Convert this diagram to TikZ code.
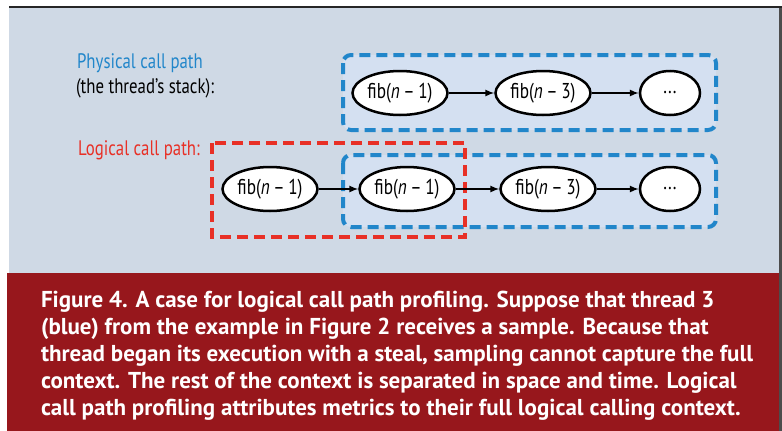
\documentclass[tikz,border=0pt]{standalone}
\usepackage{fontspec}
\setmainfont{PT Sans}
\newfontfamily\narrowfont[FakeStretch=0.8]{PT Sans}
\usepackage{tikz}
\usetikzlibrary{shapes.geometric,arrows,positioning}
\definecolor{mybg}{RGB}{207,217,229}
\definecolor{myboxfill}{RGB}{212,224,241}
\definecolor{myblue}{RGB}{33,134,202}
\definecolor{myred}{RGB}{232,48,38}
\definecolor{mycaption}{RGB}{151,23,28}
\tikzstyle{call}=[draw,line width=2.5pt,fill=white,ellipse,minimum width=95pt,minimum height=44pt,inner sep=0pt,font=\narrowfont\fontsize{21.5}{23}\selectfont]
\tikzstyle{more}=[call,minimum width=60pt]
\tikzstyle{bluepath}=[draw=myblue,fill=myboxfill,line width=4pt,dash pattern=on 11pt off 6pt,rounded corners=8pt]
\tikzstyle{redpath}=[draw=myred,line width=4pt,dash pattern=on 11pt off 6pt]
\tikzstyle{label}=[inner sep=0pt,font=\narrowfont\fontsize{21}{23}\selectfont]
\begin{document}
\begin{tikzpicture}[x=1pt,y=-1pt,>=latex,line width=2pt]
\useasboundingbox (0,0) rectangle (782,431);
\fill[white] (0,0) rectangle (782,431);
\fill[mybg] (9,8) rectangle (779,273);
\fill[mycaption] (7,273) rectangle (779,431);
\fill[black!70] (779,7) rectangle (782,431);
\draw[line width=2.5pt,black!85] (9,7) -- (782,7);
\draw[bluepath] (343,55) rectangle (716,130);
\draw[bluepath] (343,155) rectangle (716,227);
\draw[redpath] (212,143) rectangle (465,237);
\node[label,text=myblue] (phys) at (140,63) {Physical call path};
\node[label] (stack) at (145,88) {(the thread’s stack):};
\node[label,text=myred] (logic) at (139,150) {Logical call path:};
\draw (400,93) node [call] (p1) {fib(\textit{n}\,–\,1)};
\draw (543,93) node [call] (p2) {fib(\textit{n}\,–\,3)};
\draw (670,93) node [more] (p3) {...};
\draw (270,189) node [call] (l1) {fib(\textit{n}\,–\,1)};
\draw (407,189) node [call] (l2) {fib(\textit{n}\,–\,1)};
\draw (548,189) node [call] (l3) {fib(\textit{n}\,–\,3)};
\draw (670,189) node [more] (l4) {...};
\draw[->] (p1) -- (p2);
\draw[->] (p2) -- (p3);
\draw[->] (l1) -- (l2);
\draw[->] (l2) -- (l3);
\draw[->] (l3) -- (l4);
\node[anchor=north west,inner sep=0pt,text=white,align=left,font=\bfseries\fontsize{23}{27}\selectfont] (caption) at (40,290)
{Figure 4. A case for logical call path profiling. Suppose that thread 3\\
(blue) from the example in Figure 2 receives a sample. Because that\\
thread began its execution with a steal, sampling cannot capture the full\\
context. The rest of the context is separated in space and time. Logical\\
call path profiling attributes metrics to their full logical calling context.};
\end{tikzpicture}
\end{document}
